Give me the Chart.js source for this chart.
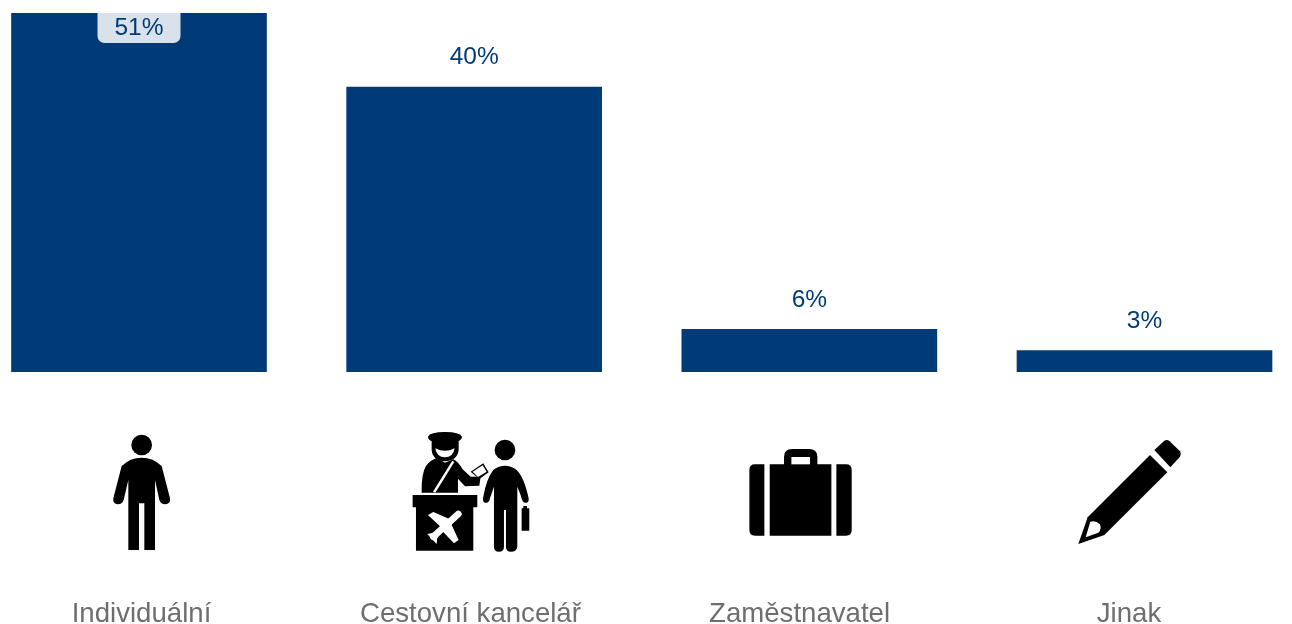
<!DOCTYPE html>
<html>
<head>
<meta charset="utf-8">
<script src="https://cdn.jsdelivr.net/npm/chart.js@4"></script>
<style>
html, body { margin: 0; padding: 0; background: #fff; overflow: hidden; }
#wrap { position: relative; width: 1292px; height: 624px; }
</style>
</head>
<body>
<div id="wrap"><canvas id="chart" width="1292" height="624"></canvas></div>
<script>
var categories = ['Individuální', 'Cestovní kancelář', 'Zaměstnavatel', 'Jinak'];
var shares = [51, 40, 6, 3];
var valueLabels = ['51%', '40%', '6%', '3%'];

var navy = '#003b78';
var labelFont = '"Liberation Sans", Arial, sans-serif';

// icon outlines, in a 3x grid placed relative to the category centre;
// the category name is centred under the icon, not under the bar
var icons = [
    {
        dx: -49, dy: 48, labelDx: 2.5,
        black: [
            'M124 75a31 31 0 1 0 62 0a31 31 0 1 0 -62 0Z',
            'M95 138Q120 113 155 113Q190 113 215 138L240 235Q243 252 225 253Q213 253 208 240L195 180L195 390L163 390L163 250L147 250L147 390L115 390L115 180L101 240Q96 253 84 253Q67 252 70 235Z'
        ],
        white: []
    },
    {
        dx: -74.2, dy: 48, labelDx: -3.7,
        black: [
            'M38 225H232V262H220V392H48V262H38Z',
            'M65 218Q64 160 78 138Q90 120 112 114L135 128L160 118Q175 125 188 148L212 170L242 170L238 197L195 199L174 176V218Z',
            'M84 50Q90 36 135 36Q180 36 186 50Q186 60 172 64L172 75H98L98 64Q84 60 84 50Z',
            'M95 60H176V90Q172 122 135 124Q98 122 95 90Z',
            'M212 155L250 130L266 157L238 177Z',
            'M284 90a31 31 0 1 0 62 0a31 31 0 1 0 -62 0Z',
            'M280 150Q315 125 350 150Q372 170 386 235Q388 250 375 248Q367 248 362 225L352 200V380Q350 395 333 395Q318 395 318 380V270H312V380Q312 395 297 395Q282 395 282 380V200L270 235Q268 250 256 248Q246 246 250 230Q260 175 280 150Z',
            'M365 265H370V258H381V265H388V332H365Z'
        ],
        white: [
            'M218 155L248 136L260 155L234 171Z',
            'M106 85Q135 100 164 85Q160 112 135 112Q110 112 106 85Z',
            'M157 122L163 126L106 218L99 215Z'
        ],
        plane: true
    },
    {
        dx: -74.3, dy: 63, labelDx: -9.8,
        black: [
            'M43 105Q43 88 60 88H88V302H60Q43 302 43 285Z',
            'M104 88H147V65Q147 42 172 42H222Q247 42 247 65V88H289V302H104Z',
            'M304 88H333Q350 88 350 105V285Q350 302 333 302H304Z'
        ],
        white: ['M169 66H225V88H169Z']
    },
    {
        dx: -79.5, dy: 58, labelDx: -15.5,
        black: [
            'M40 342L68 262L255 75L307 127L118 315Z',
            'M268 60L298 32Q306 27 314 34L345 64Q350 72 345 80L316 112Z'
        ],
        white: ['M62 322L76 275Q92 270 104 282Q112 296 100 308Z']
    }
];

function drawPlane(ctx) {
    ctx.strokeStyle = '#fff';
    ctx.lineCap = 'round';
    ctx.lineWidth = 20;
    ctx.beginPath();
    ctx.moveTo(100, 350);
    ctx.lineTo(175, 282);
    ctx.stroke();
    ctx.fillStyle = '#fff';
    ctx.fill(new Path2D('M84 285L100 276L155 300L128 326Z'));
    ctx.fill(new Path2D('M122 328L150 304L176 360L162 370Z'));
    ctx.fill(new Path2D('M82 342L100 338L112 352L110 372Z'));
}

var iconPlugin = {
    id: 'iconPlugin',
    afterDraw: function (chart) {
        var ctx = chart.ctx;
        var x = chart.scales.x;
        var base = chart.scales.y.getPixelForValue(0);
        for (let i = 0; i < icons.length; i++) {
            let center = x.getPixelForValue(i);
            ctx.save();
            ctx.translate(center + icons[i].dx, base + icons[i].dy);
            ctx.scale(1 / 3, 1 / 3);
            ctx.fillStyle = '#000';
            icons[i].black.forEach(function (d) { ctx.fill(new Path2D(d)); });
            ctx.fillStyle = '#fff';
            icons[i].white.forEach(function (d) { ctx.fill(new Path2D(d)); });
            if (icons[i].plane) drawPlane(ctx);
            ctx.restore();

            ctx.save();
            ctx.font = '27.6px ' + labelFont;
            ctx.fillStyle = '#6e6e6e';
            ctx.textAlign = 'center';
            ctx.textBaseline = 'middle';
            ctx.fillText(categories[i], center + icons[i].labelDx, base + 242);
            ctx.restore();
        }
    }
};

// value labels sit above the bar, or in a pale tag when the bar reaches the top
var valueLabelPlugin = {
    id: 'valueLabelPlugin',
    afterDatasetsDraw: function (chart) {
        var ctx = chart.ctx;
        var area = chart.chartArea;
        var bars = chart.getDatasetMeta(0).data;
        ctx.save();
        ctx.beginPath();
        ctx.rect(0, area.top, chart.width, chart.height);
        ctx.clip();
        ctx.font = '24.5px ' + labelFont;
        ctx.textAlign = 'center';
        ctx.textBaseline = 'middle';
        for (let i = 0; i < bars.length; i++) {
            let x = bars[i].x;
            let y = bars[i].y - 29.5;
            if (bars[i].y < area.top) {
                y = area.top + 15;
                ctx.fillStyle = 'rgba(255,255,255,0.85)';
                ctx.beginPath();
                ctx.roundRect(x - 41.5, area.top - 10, 83, 40, 7);
                ctx.fill();
            }
            ctx.fillStyle = navy;
            ctx.fillText(valueLabels[i], x, y);
        }
        ctx.restore();
    }
};

new Chart('chart', {
    type: 'bar',
    data: {
        labels: categories,
        datasets: [{
            data: shares,
            backgroundColor: navy,
            barThickness: 255,
            clip: { left: false, right: false, top: 0, bottom: 0 }
        }]
    },
    plugins: [iconPlugin, valueLabelPlugin],
    options: {
        responsive: false,
        animation: false,
        layout: { padding: { left: 139, right: 147.5, top: 13, bottom: 0 } },
        plugins: { legend: { display: false }, tooltip: { enabled: false } },
        scales: {
            x: {
                offset: false,
                border: { display: false },
                grid: { display: false, drawTicks: false },
                ticks: { display: false },
                // icons and names live in this box, so keep its size fixed
                afterFit: function (scale) {
                    scale.paddingLeft = 0;
                    scale.paddingRight = 0;
                    scale.height = 252;
                }
            },
            y: {
                display: false,
                min: 0,
                max: 50.4
            }
        }
    }
});
</script>
</body>
</html>
